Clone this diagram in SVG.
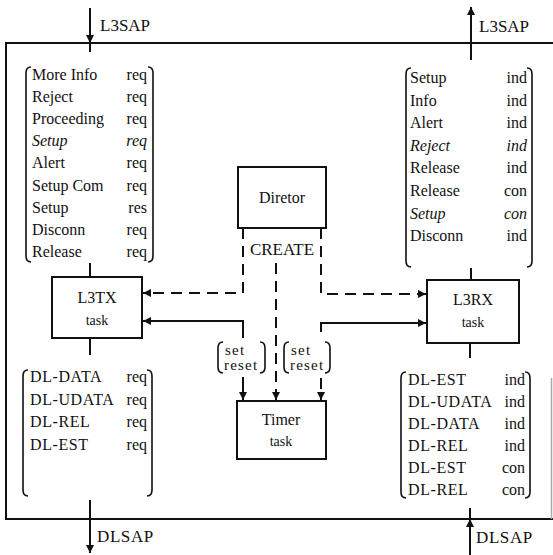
<svg xmlns="http://www.w3.org/2000/svg" width="553" height="555" viewBox="0 0 553 555">
<defs>
<marker id="ah" viewBox="0 0 10 10" refX="10" refY="5" markerWidth="9" markerHeight="8" markerUnits="userSpaceOnUse" orient="auto">
<path d="M0,0 L10,5 L0,10 z" fill="#111"/>
</marker>
</defs>
<style>
text{font-family:"Liberation Serif","Times New Roman",serif;fill:#111;font-size:16px}
.it{font-style:italic}
.box{fill:none;stroke:#111;stroke-width:2}
.ln{fill:none;stroke:#111;stroke-width:2}
.dash{fill:none;stroke:#111;stroke-width:2;stroke-dasharray:11 7}
.br{fill:none;stroke:#111;stroke-width:1.6}
.lbl{font-size:17px}
.sm{font-size:14px}
.c{text-anchor:middle}
.e{text-anchor:end}
.sr{font-size:15px;letter-spacing:1.2px}
</style>
<rect width="553" height="555" fill="#fff"/>
<g id="frame">
<path class="ln" d="M553,43 H6 V519 H553"/>
<line x1="551.5" y1="378" x2="551.5" y2="519" stroke="#aaa" stroke-width="1.5"/>
</g>
<g id="connectors">
<line class="ln" x1="90" y1="8" x2="90" y2="43" marker-end="url(#ah)"/>
<line class="ln" x1="90" y1="43" x2="90" y2="52"/>
<line class="ln" x1="471" y1="60" x2="471" y2="7" marker-end="url(#ah)"/>
<line class="ln" x1="90" y1="500" x2="90" y2="553" marker-end="url(#ah)"/>
<line class="ln" x1="470" y1="555" x2="470" y2="519" marker-end="url(#ah)"/>
<line class="ln" x1="470" y1="508" x2="470" y2="519"/>
<line class="ln" x1="90" y1="263" x2="90" y2="277"/>
<line class="ln" x1="90" y1="338" x2="90" y2="355"/>
<line class="ln" x1="471" y1="268" x2="471" y2="280"/>
<line class="ln" x1="470" y1="343" x2="470" y2="358"/>
<path class="dash" d="M243,228 V293 H143" marker-end="url(#ah)"/>
<path class="dash" d="M321,228 V294 H426" marker-end="url(#ah)"/>
<path class="dash" d="M276,263 V400" marker-end="url(#ah)"/>
<path class="ln" d="M243,338 V321 H143" marker-end="url(#ah)"/>
<path class="ln" d="M243,377 V400" marker-end="url(#ah)"/>
<path class="ln" d="M321,332 V323 H426" marker-end="url(#ah)"/>
<path class="dash" d="M321,378 V400" marker-end="url(#ah)"/>
</g>
<g id="sap-labels">
<text class="lbl" x="100" y="31">L3SAP</text>
<text class="lbl" x="479" y="32">L3SAP</text>
<text class="lbl" x="97" y="542" letter-spacing="0.6">DLSAP</text>
<text class="lbl" x="476" y="543" letter-spacing="0.6">DLSAP</text>
</g>
<g id="director">
<rect class="box" x="238" y="167" width="88" height="61"/>
<text class="c" x="282" y="203">Diretor</text>
</g>
<text id="create" class="lbl c" x="282" y="255">CREATE</text>
<g id="l3tx">
<rect class="box" x="52" y="277" width="90" height="61"/>
<text class="c" x="97" y="303" font-size="17">L3TX</text>
<text class="c sm" x="97" y="325">task</text>
</g>
<g id="l3rx">
<rect class="box" x="427" y="280" width="92" height="63"/>
<text class="c" x="473" y="305" font-size="17">L3RX</text>
<text class="c sm" x="473" y="327">task</text>
</g>
<g id="timer">
<rect class="box" x="237" y="401" width="89" height="58"/>
<text class="c" x="281" y="425">Timer</text>
<text class="c sm" x="281" y="446">task</text>
</g>
<g id="setreset-left">
<path class="br" d="M223,342 Q218,342 218,348 V367 Q218,373 223,373"/>
<path class="br" d="M260,342 Q265,342 265,348 V367 Q265,373 260,373"/>
<text class="sr" x="225" y="355">set</text>
<text class="sr" x="224" y="370">reset</text>
</g>
<g id="setreset-right">
<path class="br" d="M289,342 Q284,342 284,348 V367 Q284,373 289,373"/>
<path class="br" d="M325,342 Q330,342 330,348 V367 Q330,373 325,373"/>
<text class="sr" x="291" y="355">set</text>
<text class="sr" x="290" y="370">reset</text>
</g>
<g id="list-tx-upper">
<path class="br" d="M31,67 Q26,67 26,73 V256 Q26,262 31,262"/>
<path class="br" d="M148,67 Q153,67 153,73 V256 Q153,262 148,262"/>
<text x="32" y="80">More Info</text><text class="e" x="147" y="80">req</text>
<text x="32" y="102">Reject</text><text class="e" x="147" y="102">req</text>
<text x="32" y="124">Proceeding</text><text class="e" x="147" y="124">req</text>
<text class="it" x="32" y="146">Setup</text><text class="e it" x="147" y="146">req</text>
<text x="32" y="168">Alert</text><text class="e" x="147" y="168">req</text>
<text x="32" y="191">Setup Com</text><text class="e" x="147" y="191">req</text>
<text x="32" y="213">Setup</text><text class="e" x="147" y="213">res</text>
<text x="32" y="235">Disconn</text><text class="e" x="147" y="235">req</text>
<text x="32" y="257">Release</text><text class="e" x="147" y="257">req</text>
</g>
<g id="list-rx-upper">
<path class="br" d="M411,68 Q406,68 406,74 V261 Q406,267 411,267"/>
<path class="br" d="M527,68 Q532,68 532,74 V261 Q532,267 527,267"/>
<text x="410" y="83">Setup</text><text class="e" x="527" y="83">ind</text>
<text x="410" y="106">Info</text><text class="e" x="527" y="106">ind</text>
<text x="410" y="128">Alert</text><text class="e" x="527" y="128">ind</text>
<text class="it" x="410" y="151">Reject</text><text class="e it" x="527" y="151">ind</text>
<text x="410" y="173">Release</text><text class="e" x="527" y="173">ind</text>
<text x="410" y="196">Release</text><text class="e" x="527" y="196">con</text>
<text class="it" x="410" y="219">Setup</text><text class="e it" x="527" y="219">con</text>
<text x="410" y="241">Disconn</text><text class="e" x="527" y="241">ind</text>
</g>
<g id="list-tx-lower">
<path class="br" d="M28,370 Q23,370 23,376 V490 Q23,496 28,496"/>
<path class="br" d="M147,370 Q152,370 152,376 V490 Q152,496 147,496"/>
<text x="30" y="382" letter-spacing="0.6">DL-DATA</text><text class="e" x="147" y="382">req</text>
<text x="30" y="405" letter-spacing="0.6">DL-UDATA</text><text class="e" x="147" y="405">req</text>
<text x="30" y="427" letter-spacing="0.6">DL-REL</text><text class="e" x="147" y="427">req</text>
<text x="30" y="450" letter-spacing="0.6">DL-EST</text><text class="e" x="147" y="450">req</text>
</g>
<g id="list-rx-lower">
<path class="br" d="M406,372 Q401,372 401,378 V492 Q401,498 406,498"/>
<path class="br" d="M525,372 Q530,372 530,378 V492 Q530,498 525,498"/>
<text x="408" y="385" letter-spacing="0.6">DL-EST</text><text class="e" x="525" y="385">ind</text>
<text x="408" y="407" letter-spacing="0.6">DL-UDATA</text><text class="e" x="525" y="407">ind</text>
<text x="408" y="429" letter-spacing="0.6">DL-DATA</text><text class="e" x="525" y="429">ind</text>
<text x="408" y="451" letter-spacing="0.6">DL-REL</text><text class="e" x="525" y="451">ind</text>
<text x="408" y="473" letter-spacing="0.6">DL-EST</text><text class="e" x="525" y="473">con</text>
<text x="408" y="495" letter-spacing="0.6">DL-REL</text><text class="e" x="525" y="495">con</text>
</g>
</svg>
